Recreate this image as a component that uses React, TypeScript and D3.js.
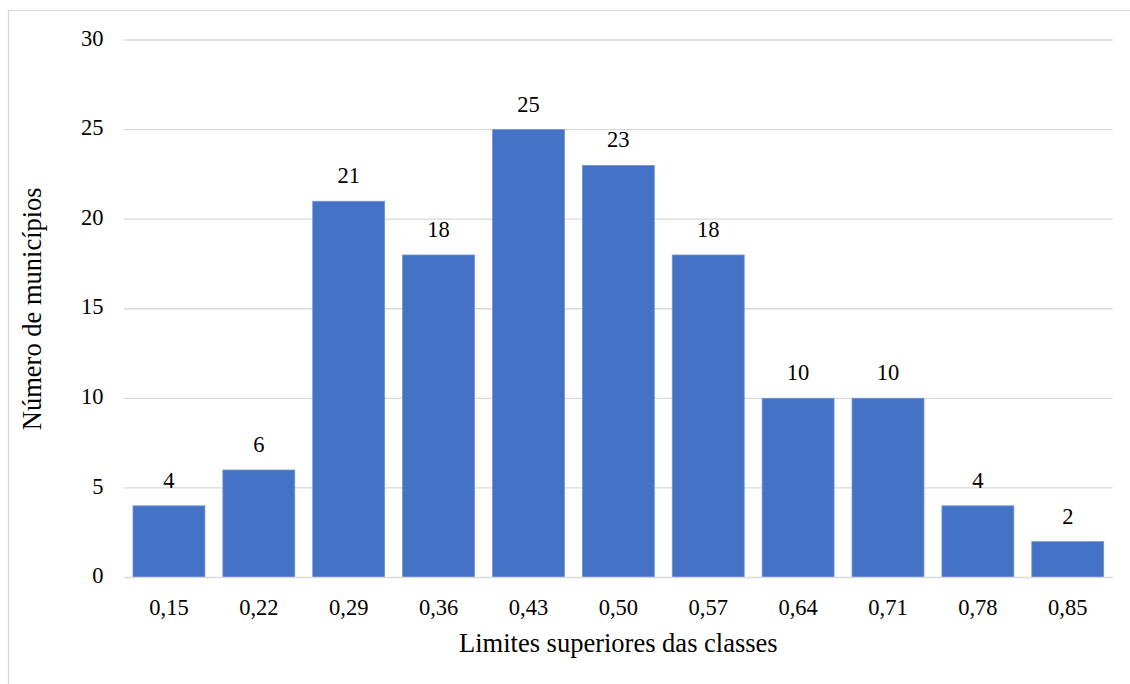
import React from "react";
import * as d3 from "d3";

const categories = ["0,15", "0,22", "0,29", "0,36", "0,43", "0,50", "0,57", "0,64", "0,71", "0,78", "0,85"];
const values = [4, 6, 21, 18, 25, 23, 18, 10, 10, 4, 2];
const yTicks = [0, 5, 10, 15, 20, 25, 30];
const xTitle = "Limites superiores das classes";
const yTitle = "Número de municípios";

export default function App() {
  const W = 1130, H = 684;
  const left = 124, right = 1112.7, top = 40, bottom = 577.5;
  const x = d3.scaleBand<string>().domain(categories).range([left, right]).paddingInner(0.2).paddingOuter(0.1);
  const y = d3.scaleLinear().domain([0, 30]).range([bottom, top]);
  const ff = "Liberation Serif, Times New Roman, serif";
  const fs = 22.5;
  const ft = 26.5;
  return (
    <svg width={W} height={H} style={{ position: "absolute", left: 0, top: 0, display: "block" }}>
      <rect x={0} y={0} width={W} height={H} fill="#fff" />
      <rect x={8.5} y={10.5} width={1140} height={700} fill="#fff" stroke="#d9d9d9" strokeWidth={1.3} />
      {yTicks.map((t) => (
        <g key={t}>
          {t !== 0 && <line x1={left} x2={right} y1={y(t)} y2={y(t)} stroke="#d9d9d9" strokeWidth={1.3} />}
          <text x={103.5} y={y(t) + 5.7} textAnchor="end" fontFamily={ff} fontSize={fs} fill="#000">{t}</text>
        </g>
      ))}
      {categories.map((c, i) => (
        <g key={c}>
          <rect x={x(c)} y={y(values[i])} width={x.bandwidth()} height={y(0) - y(values[i])} fill="#4472C4" stroke="#6f93d3" strokeWidth={0.8} />
          <text x={(x(c) as number) + x.bandwidth() / 2} y={y(values[i]) - 18} textAnchor="middle" fontFamily={ff} fontSize={fs} fill="#000">{values[i]}</text>
          <text x={(x(c) as number) + x.bandwidth() / 2} y={615} textAnchor="middle" fontFamily={ff} fontSize={fs} fill="#000">{c}</text>
        </g>
      ))}
      <line x1={left} x2={right} y1={bottom} y2={bottom} stroke="#d9d9d9" strokeWidth={1.3} />
      <text x={(left + right) / 2} y={652} textAnchor="middle" fontFamily={ff} fontSize={ft} fill="#000">{xTitle}</text>
      <text transform={`translate(41, ${(top + bottom) / 2}) rotate(-90)`} textAnchor="middle" fontFamily={ff} fontSize={ft} fill="#000">{yTitle}</text>
    </svg>
  );
}
